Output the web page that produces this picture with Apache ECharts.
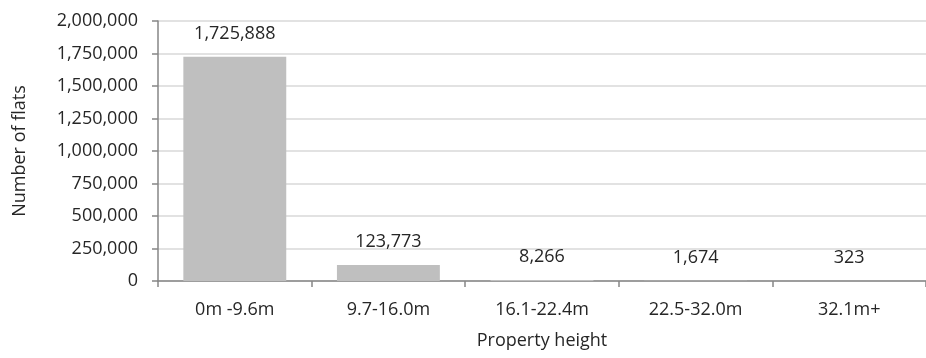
<!DOCTYPE html>
<html>
<head>
<meta charset="utf-8">
<script src="https://cdn.jsdelivr.net/npm/echarts@6/dist/echarts.min.js"></script>
<style>
  html, body { margin: 0; padding: 0; background: #fff; }
  #chart { width: 926px; height: 358px; }
</style>
</head>
<body>
<div id="chart"></div>
<script>
// Flats grouped by building height band
const heightBands = ['0m -9.6m', '9.7-16.0m', '16.1-22.4m', '22.5-32.0m', '32.1m+'];
const flatCounts = [1725888, 123773, 8266, 1674, 323];

const FONT = '"Open Sans", "Noto Sans", sans-serif';
const TEXT = '#262626';
const SIZE = 18;

const fmt = v => v.toLocaleString('en-US');

const chart = echarts.init(document.getElementById('chart'), null, { renderer: 'canvas' });

chart.setOption({
  animation: false,
  backgroundColor: '#ffffff',
  grid: { left: 158, right: 0, top: 21, bottom: 77 },
  xAxis: {
    type: 'category',
    data: heightBands,
    name: 'Property height',
    nameLocation: 'middle',
    nameGap: 51,
    nameTextStyle: { fontFamily: FONT, fontSize: SIZE, color: TEXT },
    axisLine: { lineStyle: { color: '#868686', width: 1.5 } },
    axisTick: { show: true, length: 6, inside: false, lineStyle: { color: '#868686', width: 1.5 } },
    axisLabel: { margin: 20, fontFamily: FONT, fontSize: SIZE, color: TEXT }
  },
  yAxis: {
    type: 'value',
    min: 0,
    max: 2000000,
    interval: 250000,
    name: 'Number of flats',
    nameLocation: 'middle',
    nameGap: 129,
    nameTextStyle: { fontFamily: FONT, fontSize: SIZE, color: TEXT },
    axisLine: { show: true, lineStyle: { color: '#868686', width: 1.5 } },
    axisTick: { show: true, length: 6, lineStyle: { color: '#868686', width: 1.5 } },
    axisLabel: { margin: 20, fontFamily: FONT, fontSize: SIZE, color: TEXT, formatter: v => fmt(v) },
    splitLine: { show: true, lineStyle: { color: '#d9d9d9', width: 1.5 } }
  },
  series: [{
    type: 'bar',
    data: flatCounts,
    barCategoryGap: '33%',
    itemStyle: { color: '#bfbfbf' },
    label: {
      show: true,
      position: 'top',
      distance: 14,
      fontFamily: FONT,
      fontSize: SIZE,
      color: TEXT,
      formatter: p => fmt(p.value)
    }
  }]
});
</script>
</body>
</html>
